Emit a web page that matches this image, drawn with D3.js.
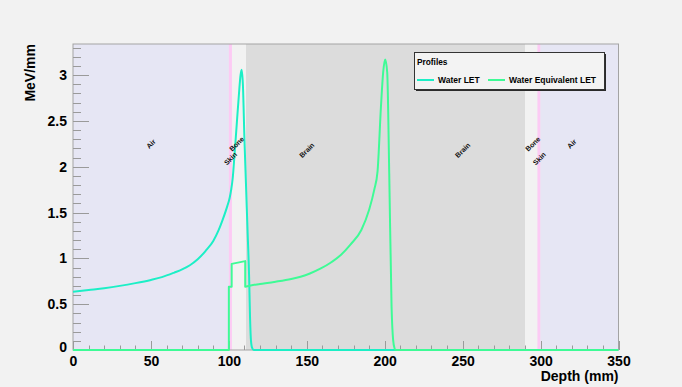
<!DOCTYPE html>
<html>
<head>
<meta charset="utf-8">
<script src="https://cdn.jsdelivr.net/npm/d3@7"></script>
<style>
  html, body { margin: 0; padding: 0; background: #f2f2f2; }
  svg { display: block; font-family: "Liberation Sans", Arial, Helvetica, sans-serif; font-weight: bold; }
</style>
</head>
<body>
<svg id="chart" width="682" height="387"></svg>
<script>
// Water LET profile (depth in mm, LET in MeV/mm)
const waterDepth = [0, 10, 20, 30, 40, 50, 57, 65, 70, 75, 80, 85, 90, 93.5, 96, 99, 100.5, 101.5, 102.5,
  103.5, 105, 106.5, 107.5, 108.2, 109, 110, 111, 112, 113, 113.6, 114.2, 115, 116, 350];
const waterLET = [0.635, 0.655, 0.675, 0.70, 0.73, 0.765, 0.795, 0.845, 0.88, 0.925, 0.99, 1.08, 1.19, 1.31, 1.42, 1.57, 1.66, 1.75, 1.88,
  2.1, 2.45, 2.8, 3.0, 3.06, 2.9, 2.3, 1.8, 1.3, 0.8, 0.35, 0.1, 0.02, 0, 0];

// Water-equivalent LET profile
const weDepth = [0, 100, 100, 101.8, 101.8, 110.5, 110.5, 114, 120, 130, 140, 146, 152, 159, 165, 172, 178, 185,
  190, 193.3, 195.4, 197.6, 199, 200.3, 201.6, 202.9, 204.4, 205.4, 206.3, 207, 350];
const weLET = [0, 0, 0.69, 0.69, 0.94, 0.97, 0.69, 0.705, 0.72, 0.745, 0.775, 0.80, 0.835, 0.89, 0.95, 1.04, 1.15, 1.31,
  1.53, 1.75, 1.95, 2.66, 3.03, 3.17, 3.03, 1.93, 0.47, 0.11, 0.02, 0, 0];

// Material slabs along the beam
const regionNames = ["Air", "Skin", "Bone", "Brain", "Bone", "Skin", "Air"];
const regionStart = [0, 100, 102, 111, 290, 298, 300];
const regionEnd = [100, 102, 111, 290, 298, 300, 350];

// Material annotations (depth, LET-axis height)
const labelText = ["Air", "Skin", "Bone", "Brain", "Brain", "Bone", "Skin", "Air"];
const labelDepth = [50, 101, 105, 150, 250, 295, 299.2, 320];
const labelValue = [2.25, 2.09, 2.25, 2.18, 2.18, 2.25, 2.09, 2.25];

// Axis ticks
const xTicks = [0, 50, 100, 150, 200, 250, 300, 350];
const yTicks = [0, 0.5, 1, 1.5, 2, 2.5, 3];
const seriesNames = ["Water LET", "Water Equivalent LET"];

const materialFill = { Air: "#e6e6f4", Skin: "#fccbf4", Bone: "#f2f2f2", Brain: "#dcdcdc" };
const seriesColor = ["#1cefc6", "#3efb96"];

const svg = d3.select("#chart");
const plot = { left: 73, right: 618.5, top: 44, bottom: 350 };

const x = d3.scaleLinear().domain([0, 350]).range([plot.left, plot.right]);
const y = d3.scaleLinear().domain([0, 3.34]).range([plot.bottom, plot.top]);

// clip for the curves
svg.append("defs").append("clipPath").attr("id", "plotClip")
  .append("rect")
  .attr("x", plot.left).attr("y", plot.top - 2)
  .attr("width", plot.right - plot.left).attr("height", plot.bottom - plot.top + 4);

// material slabs
svg.append("g").selectAll("rect")
  .data(regionNames.map((n, i) => ({ n, a: regionStart[i], b: regionEnd[i] })))
  .join("rect")
  .attr("x", d => x(d.a))
  .attr("y", plot.top)
  .attr("width", d => x(d.b) - x(d.a))
  .attr("height", plot.bottom - plot.top)
  .attr("fill", d => materialFill[d.n]);

// frame
svg.append("rect")
  .attr("x", plot.left).attr("y", plot.top)
  .attr("width", plot.right - plot.left).attr("height", plot.bottom - plot.top)
  .attr("fill", "none").attr("stroke", "#a3a3a3").attr("stroke-width", 1);

// ticks (drawn inward)
const tickColor = "#9a9a9a";
const tickG = svg.append("g").attr("stroke", tickColor).attr("stroke-width", 1);
const yMinor = d3.range(0, 3.34, 0.1);
tickG.selectAll("line.ym").data(yMinor).join("line")
  .attr("x1", plot.left).attr("x2", d => plot.left + (Math.abs(d * 2 - Math.round(d * 2)) < 1e-6 ? 16 : 8))
  .attr("y1", d => Math.round(y(d)) + 0.5).attr("y2", d => Math.round(y(d)) + 0.5);
const xMinor = d3.range(0, 351, 10);
tickG.selectAll("line.xm").data(xMinor).join("line")
  .attr("y1", plot.bottom).attr("y2", d => plot.bottom - (d % 50 === 0 ? 9 : 4.5))
  .attr("x1", d => Math.round(x(d)) + 0.5).attr("x2", d => Math.round(x(d)) + 0.5);

// Smooth path through the samples; vertical steps (repeated depth) stay sharp.
function profilePath(depths, values) {
  const pts = depths.map((d, i) => [d, values[i]]);
  const runs = [];
  let run = [pts[0]];
  for (let i = 1; i < pts.length; i++) {
    if (pts[i][0] === pts[i - 1][0]) { runs.push(run); run = [pts[i]]; }
    else run.push(pts[i]);
  }
  runs.push(run);
  const gen = d3.line().x(d => x(d[0])).y(d => y(d[1])).curve(d3.curveMonotoneX);
  return runs.map((r, i) => {
    const s = r.length > 1 ? gen(r) : `M${x(r[0][0])},${y(r[0][1])}`;
    return i === 0 ? s : "L" + s.slice(1);
  }).join("");
}

const curves = svg.append("g").attr("clip-path", "url(#plotClip)");
curves.append("path")
  .attr("d", profilePath(waterDepth, waterLET)).attr("fill", "none")
  .attr("stroke", seriesColor[0]).attr("stroke-width", 2).attr("stroke-linejoin", "round");
curves.append("path")
  .attr("d", profilePath(weDepth, weLET)).attr("fill", "none")
  .attr("stroke", seriesColor[1]).attr("stroke-width", 2).attr("stroke-linejoin", "round");

// tick labels
const xAxisG = svg.append("g")
  .attr("transform", `translate(0,${plot.bottom})`)
  .call(d3.axisBottom(x).tickValues(xTicks).tickSize(0).tickPadding(6).tickFormat(d3.format("d")));
xAxisG.select(".domain").remove();
xAxisG.selectAll("text").attr("font-size", 14).attr("font-family", "Liberation Sans, Arial, sans-serif")
  .attr("font-weight", "bold").attr("fill", "#000");

const yAxisG = svg.append("g")
  .attr("transform", `translate(${plot.left},0)`)
  .call(d3.axisLeft(y).tickValues(yTicks).tickSize(0).tickPadding(6).tickFormat(d => d === 0 ? "0" : String(d)));
yAxisG.select(".domain").remove();
yAxisG.selectAll("text").attr("font-size", 14).attr("font-family", "Liberation Sans, Arial, sans-serif")
  .attr("font-weight", "bold").attr("fill", "#000");
// the zero label sits a touch lower, next to the x zero
yAxisG.selectAll(".tick").filter(d => d === 0).select("text").attr("dy", "0.1em");

// axis titles
svg.append("text")
  .attr("x", plot.right).attr("y", 381)
  .attr("text-anchor", "end").attr("font-size", 14).text("Depth (mm)");
svg.append("text")
  .attr("transform", `translate(35,${plot.top}) rotate(-90)`)
  .attr("text-anchor", "end").attr("font-size", 14).text("MeV/mm");

// material labels
svg.append("g").selectAll("text")
  .data(labelText.map((t, i) => ({ t, d: labelDepth[i], v: labelValue[i] })))
  .join("text")
  .attr("transform", d => `translate(${x(d.d)},${y(d.v)}) rotate(-45)`)
  .attr("text-anchor", "middle").attr("dominant-baseline", "central")
  .attr("font-size", 7).attr("fill", "#111").text(d => d.t);

// legend
const lg = svg.append("g");
const lgBox = { x: 414, y: 52, w: 190, h: 37 };
lg.append("rect").attr("x", lgBox.x + 2).attr("y", lgBox.y + 2)
  .attr("width", lgBox.w).attr("height", lgBox.h).attr("fill", "#2a2a2a");
lg.append("rect").attr("x", lgBox.x + 0.5).attr("y", lgBox.y + 0.5)
  .attr("width", lgBox.w).attr("height", lgBox.h)
  .attr("fill", "#f3f3f3").attr("stroke", "#333").attr("stroke-width", 1);
lg.append("text").attr("x", 417).attr("y", 64.5).attr("font-size", 8.3).text("Profiles");
const entryX = [417, 488];
seriesNames.forEach((name, i) => {
  lg.append("line").attr("x1", entryX[i]).attr("x2", entryX[i] + 17)
    .attr("y1", 80).attr("y2", 80).attr("stroke", seriesColor[i]).attr("stroke-width", 2);
  lg.append("text").attr("x", entryX[i] + 21).attr("y", 83).attr("font-size", 8.5).text(name);
});
</script>
</body>
</html>
